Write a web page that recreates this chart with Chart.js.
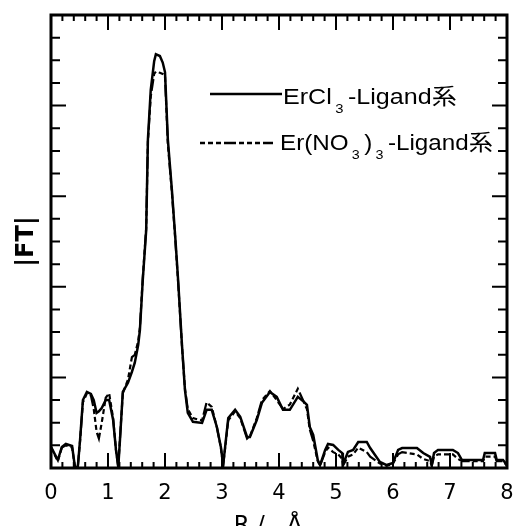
<!DOCTYPE html>
<html lang="ja">
<head>
  <meta charset="UTF-8">
  <title>|FT| vs R</title>
  <script src="https://cdn.jsdelivr.net/npm/chart.js"></script>
  <style>
    html, body { margin: 0; padding: 0; overflow: hidden; background: #fff; }
    #wrap { position: relative; width: 516px; height: 540px; }
    .lg-line { position: absolute; }
    .lg-text {
      position: absolute;
      font-family: "Liberation Sans", "Noto Sans CJK JP", sans-serif;
      font-size: 22px;
      line-height: 1;
      white-space: nowrap;
      transform-origin: left center;
      color: #000;
    }
    .lg-text sub { font-size: 13px; vertical-align: baseline; position: relative; top: 9px; margin: 0 4px 0 3px; }
  </style>
</head>
<body>
  <div id="wrap">
    <canvas id="ftChart"></canvas>
    <svg class="lg-line" style="left:210px;top:90px" width="72" height="8">
      <line x1="0" y1="4" x2="72" y2="4" stroke="#000" stroke-width="2.5"/>
    </svg>
    <div class="lg-text" style="left:283px;top:86px;transform:scaleX(1.14)">ErCl<sub>3</sub>-Ligand系</div>
    <svg class="lg-line" style="left:200px;top:139px" width="73" height="8">
      <line x1="0" y1="4" x2="73" y2="4" stroke="#000" stroke-width="2.5" stroke-dasharray="5 3 5 3 5 3 12 3"/>
    </svg>
    <div class="lg-text" style="left:280px;top:132px;transform:scaleX(1.1)">Er(NO<sub>3</sub>)<sub>3</sub>-Ligand系</div>
  </div>

  <script>
    // R / Å positions and |FT| magnitudes
    const R = [0, 0.12, 0.19, 0.26, 0.37, 0.42, 0.47, 0.51, 0.56, 0.63, 0.70, 0.75, 0.80, 0.84, 0.89, 0.96, 1.02, 1.09, 1.14, 1.18,
      1.21, 1.26, 1.35, 1.42, 1.47, 1.53, 1.56, 1.61, 1.67, 1.70, 1.75, 1.81, 1.84, 1.91, 1.96, 2.00, 2.05, 2.12, 2.18, 2.23,
      2.30, 2.35, 2.40, 2.49, 2.65, 2.73, 2.82, 2.91, 2.98, 3.02, 3.11, 3.23, 3.32, 3.44, 3.49, 3.61, 3.70, 3.84, 3.96, 4.07,
      4.19, 4.33, 4.42, 4.49, 4.54, 4.60, 4.68, 4.72, 4.81, 4.86, 4.95, 5.04, 5.11, 5.12, 5.21, 5.30, 5.39, 5.54, 5.60, 5.77,
      5.89, 6.00, 6.09, 6.16, 6.42, 6.53, 6.65, 6.68, 6.72, 6.79, 7.05, 7.14, 7.21, 7.58, 7.61, 7.79, 7.82, 7.93, 8.00];

    const erCl3 = [0.93, 0.35, 0.93, 1.06, 0.97, 0.04, 0.04, 1.24, 3.0, 3.36, 3.27, 3.0, 2.43, 2.5, 2.65, 3.0, 3.0, 2.12, 0.8, 0.04,
      1.24, 3.36, 3.76, 4.25, 4.65, 5.44, 6.1, 8.3, 10.5, 14.5, 16.7, 17.96, 18.27, 18.19, 17.9, 17.48, 14.5, 12.3, 10.2, 8.3,
      5.35, 3.45, 2.43, 2.04, 1.99, 2.57, 2.57, 1.81, 0.93, 0.13, 2.21, 2.57, 2.26, 1.37, 1.37, 2.12, 2.88, 3.36, 3.14, 2.57,
      2.57, 3.14, 2.96, 2.79, 1.81, 1.46, 0.35, 0.13, 0.8, 1.06, 1.02, 0.8, 0.66, 0.13, 0.71, 0.8, 1.15, 1.15, 0.88, 0.27,
      0.13, 0.22, 0.8, 0.88, 0.88, 0.66, 0.49, 0.13, 0.66, 0.8, 0.8, 0.66, 0.35, 0.35, 0.66, 0.66, 0.35, 0.35, 0.13];

    const erNO33 = [0.9, 0.3, 0.9, 1.0, 0.9, 0.05, 0.05, 1.2, 2.9, 3.3, 3.2, 2.6, 1.6, 1.3, 2.0, 3.1, 3.3, 2.2, 0.8, 0.05,
      1.3, 3.3, 3.9, 4.9, 5.0, 5.6, 6.2, 8.4, 10.6, 14.4, 16.4, 17.4, 17.5, 17.45, 17.4, 17.3, 14.3, 12.2, 10.1, 8.2,
      5.3, 3.5, 2.6, 2.2, 2.1, 2.9, 2.7, 1.8, 0.9, 0.1, 2.1, 2.5, 2.2, 1.3, 1.4, 2.2, 3.0, 3.4, 3.0, 2.6,
      2.8, 3.5, 3.0, 2.6, 1.7, 1.2, 0.3, 0.1, 0.7, 0.9, 0.7, 0.6, 0.4, 0.1, 0.5, 0.6, 0.9, 0.7, 0.5, 0.2,
      0.1, 0.2, 0.6, 0.7, 0.6, 0.4, 0.3, 0.1, 0.5, 0.6, 0.6, 0.4, 0.3, 0.3, 0.5, 0.5, 0.3, 0.3, 0.1];

    const xTicks = [0, 1, 2, 3, 4, 5, 6, 7, 8];

    const toPts = ys => R.map((r, i) => ({ x: r, y: ys[i] }));

    // box frame with inward major/minor ticks on all four sides
    const frameTicks = {
      id: 'frameTicks',
      afterDatasetsDraw(chart) {
        const { ctx, chartArea: a, scales: { x, y } } = chart;
        ctx.save();
        ctx.strokeStyle = '#000';
        ctx.lineWidth = 2;
        ctx.beginPath();
        for (let i = 0; i <= 40; i++) {
          const px = x.getPixelForValue(i / 5);
          const len = i % 5 === 0 ? 15 : 6;
          ctx.moveTo(px, a.bottom); ctx.lineTo(px, a.bottom - len);
          ctx.moveTo(px, a.top); ctx.lineTo(px, a.top + len);
        }
        for (let i = 0; i <= 20; i++) {
          const py = y.getPixelForValue(i);
          const len = i % 4 === 0 ? 15 : 9;
          ctx.moveTo(a.left, py); ctx.lineTo(a.left + len, py);
          ctx.moveTo(a.right, py); ctx.lineTo(a.right - len, py);
        }
        ctx.stroke();
        ctx.lineWidth = 3;
        ctx.strokeRect(a.left, a.top, a.right - a.left, a.bottom - a.top);
        ctx.restore();
      }
    };

    new Chart(document.getElementById('ftChart'), {
      type: 'line',
      data: {
        datasets: [{
          label: 'ErCl3-Ligand系',
          data: toPts(erCl3),
          borderColor: '#000',
          borderWidth: 2.5,
          pointRadius: 0,
          tension: 0
        }, {
          label: 'Er(NO3)3-Ligand系',
          data: toPts(erNO33),
          borderColor: '#000',
          borderWidth: 2.2,
          borderDash: [5, 3, 5, 3, 5, 3, 12, 3],
          pointRadius: 0,
          tension: 0
        }]
      },
      options: {
        responsive: true,
        maintainAspectRatio: false,
        animation: false,
        layout: { padding: { top: 15, right: 9, left: 0, bottom: 0 } },
        plugins: { legend: { display: false }, tooltip: { enabled: false } },
        scales: {
          x: {
            type: 'linear',
            min: 0,
            max: 8,
            afterBuildTicks: s => { s.ticks = xTicks.map(v => ({ value: v })); },
            afterFit: s => { s.height = 72; s.paddingLeft = 0; s.paddingRight = 0; },
            grid: { display: false, drawTicks: false },
            border: { display: false },
            ticks: {
              color: '#000',
              padding: 13,
              font: { family: '"DejaVu Sans", sans-serif', size: 21 }
            },
            title: {
              display: true,
              text: 'R /   Å   ',
              color: '#000',
              padding: { top: 0, bottom: 0 },
              font: { family: '"DejaVu Sans", sans-serif', size: 23 }
            }
          },
          y: {
            min: 0,
            max: 20,
            afterFit: s => { s.width = 51; },
            grid: { display: false, drawTicks: false },
            border: { display: false },
            ticks: { display: false },
            title: {
              display: true,
              text: '|FT|',
              color: '#000',
              padding: { top: 12, bottom: 0 },
              font: { family: '"DejaVu Sans", sans-serif', size: 24, weight: 'bold' }
            }
          }
        }
      },
      plugins: [frameTicks]
    });
  </script>
</body>
</html>
